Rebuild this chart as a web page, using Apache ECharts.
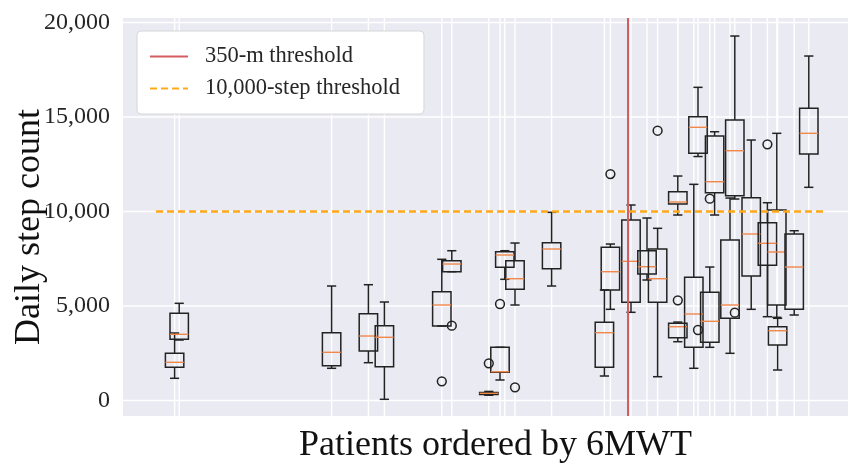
<!DOCTYPE html>
<html><head><meta charset="utf-8">
<script src="https://cdn.jsdelivr.net/npm/echarts@6/dist/echarts.min.js"></script>
<style>html,body{margin:0;padding:0;background:#fff}#chart{width:848px;height:466px}</style>
</head><body><div id="chart"></div>
<script>
// 6MWT distance (m) of each patient, in the plotted order
const positions   = [123.3, 125.6, 201.8, 220.2, 228.2, 256.9, 261.9, 280.4, 286.0, 288.4, 293.5, 311.8, 338.2, 341.2, 351.5, 359.5, 364.8, 374.9, 374.9, 382.9, 385.0, 390.9, 393.3, 401.0, 403.4, 411.6, 419.7, 424.4, 424.8, 433.1, 440.4];
const whiskerLow  = [1175, 3201, 1704, 2000,   63, 3942, 6815,  280, 1085, 6413, 5053, 6058, 1296, 4825, 4667, 6376, 1259,  9815, 3111, 1704, 12910, 2815,  9815, 2497, 10661, 4825, 4434, 4402, 1614, 4524, 11280];
const q1          = [1757, 3238, 1841, 2619, 1788, 3942, 6815,  320, 1492, 7048, 5884, 6974, 1757, 5847, 5196, 6693, 5196, 10397, 3323, 2815, 13079, 3079, 10995, 4349, 10836, 6587, 7153, 5053, 2937, 4825, 13042];
const median      = [2021, 3503, 2550, 3413, 3344, 5053, 7222,  380, 1524, 7698, 6444, 8016, 3587, 6815, 7365, 7079, 6444, 10503, 3905, 4577, 14455, 4190, 11577, 5053, 13217, 8810, 8317, 7857, 3693, 7063, 14138];
const q3          = [2497, 4614, 3587, 4593, 3958, 5757, 7397,  430, 2815, 7873, 7397, 8349, 4138, 8106, 9550, 7926, 8016, 11048, 4085, 6519, 15016, 5725, 13995, 8492, 14841, 10730, 9407, 10079, 3905, 8810, 15460];
const whiskerHigh = [3571, 5143, 6058, 6127, 5212, 7471, 7926,  480, 2815, 7926, 8333, 9958, 5847, 8280, 10344, 9656, 9111, 11878, 4150, 11439, 16571, 7063, 14222, 10714, 19286, 13783, 10466, 14138, 4349, 8984, 18228];
// outliers: [patient index, daily steps]
const outliers = [[5, 1016], [6, 3958], [7, 1968], [8, 5106], [10, 698], [13, 11984], [16, 14275], [18, 5300], [20, 3730], [21, 10680], [24, 4646], [26, 13556]];
const yTicks = [0, 5000, 10000, 15000, 20000];
const WALK_THRESHOLD = 350;       // metres
const STEP_THRESHOLD = 10000;     // steps
const STEP_LINE_RANGE = [114, 448.5];
const X_RANGE = [97.5, 460];
const Y_RANGE = [-820, 20240];
const BOX_WIDTH = 9.2;

const SERIF = "'Liberation Serif','Times New Roman',serif";
const boxData = positions.map((p, i) => [p, whiskerLow[i], q1[i], median[i], q3[i], whiskerHigh[i]]);
const outlierData = outliers.map(([i, v]) => [positions[i], v]);

const chart = echarts.init(document.getElementById('chart'));

const INK = '#222222';
function renderBox(params, api) {
  const x = api.value(0);
  const lo = api.value(1), a = api.value(2), m = api.value(3), b = api.value(4), hi = api.value(5);
  const c = api.coord([x, 0])[0];
  const hw = api.coord([x + BOX_WIDTH / 2, 0])[0] - c;
  const y = v => api.coord([x, v])[1];
  const st = { stroke: INK, lineWidth: 1.5, fill: 'none' };
  return { type: 'group', children: [
    { type: 'line', shape: { x1: c, y1: y(b), x2: c, y2: y(hi) }, style: st },
    { type: 'line', shape: { x1: c, y1: y(a), x2: c, y2: y(lo) }, style: st },
    { type: 'line', shape: { x1: c - hw / 2, y1: y(hi), x2: c + hw / 2, y2: y(hi) }, style: st },
    { type: 'line', shape: { x1: c - hw / 2, y1: y(lo), x2: c + hw / 2, y2: y(lo) }, style: st },
    { type: 'rect', shape: { x: c - hw, y: y(b), width: 2 * hw, height: y(a) - y(b) }, style: st },
    { type: 'line', shape: { x1: c - hw, y1: y(m), x2: c + hw, y2: y(m) }, style: { stroke: '#f0884a', lineWidth: 1.4 } }
  ]};
}

function renderVGrid(params, api) {
  const cs = params.coordSys;
  const x = api.coord([api.value(0), 0])[0];
  return { type: 'line', shape: { x1: x, y1: cs.y, x2: x, y2: cs.y + cs.height }, style: { stroke: '#ffffff', lineWidth: 1.4 } };
}
function renderHGrid(params, api) {
  const cs = params.coordSys;
  const y = api.coord([X_RANGE[0], api.value(1)])[1];
  return { type: 'line', shape: { x1: cs.x, y1: y, x2: cs.x + cs.width, y2: y }, style: { stroke: '#ffffff', lineWidth: 1.4 } };
}
function renderOutlier(params, api) {
  const p = api.coord([api.value(0), api.value(1)]);
  return { type: 'circle', shape: { cx: p[0], cy: p[1], r: 4.4 }, style: { stroke: INK, lineWidth: 1.5, fill: 'none' } };
}

chart.setOption({
  animation: false,
  backgroundColor: '#ffffff',
  grid: { left: 123, right: 0, top: 18, bottom: 50, show: true, backgroundColor: '#eaeaf2', borderWidth: 0,
    containLabel: false, outerBoundsMode: 'none' },
  legend: {
    orient: 'vertical', left: 137, top: 31,
    data: ['350-m threshold', '10,000-step threshold'],
    backgroundColor: '#ffffff', borderColor: '#d6d6d6', borderWidth: 1, borderRadius: 4,
    padding: [14, 24, 14, 12], itemWidth: 38, itemHeight: 14, itemGap: 9,
    itemStyle: { color: 'rgba(0,0,0,0)', borderColor: 'rgba(0,0,0,0)', borderWidth: 0 },
    textStyle: { fontFamily: SERIF, fontSize: 22.5, color: '#262626', padding: [0, 0, 0, 12] }
  },
  xAxis: {
    type: 'value', min: X_RANGE[0], max: X_RANGE[1],
    axisLine: { show: false }, axisTick: { show: false }, axisLabel: { show: false }, splitLine: { show: false },
    name: 'Patients ordered by 6MWT', nameLocation: 'middle', nameGap: 12, nameMoveOverlap: false,
    nameTextStyle: { fontFamily: SERIF, fontSize: 36, color: '#111111', padding: [0, 0, 0, 20] }
  },
  yAxis: {
    type: 'value', min: Y_RANGE[0], max: Y_RANGE[1],
    axisLine: { show: false }, axisTick: { show: false, customValues: yTicks }, splitLine: { show: false },
    axisLabel: { customValues: yTicks, margin: 13, fontFamily: SERIF, fontSize: 24, color: '#262626',
      formatter: v => Number(v).toLocaleString('en-US') },
    name: 'Daily step count', nameLocation: 'middle', nameGap: 75, nameMoveOverlap: false,
    nameTextStyle: { fontFamily: SERIF, fontSize: 36, color: '#111111', padding: [0, 20, 0, 0] }
  },
  series: [
    { type: 'custom', name: 'vgrid', z: 1, silent: true, renderItem: renderVGrid, data: positions.map(p => [p, 0]), encode: { x: 0, y: 1 } },
    { type: 'custom', name: 'hgrid', z: 1, silent: true, renderItem: renderHGrid, data: yTicks.map(v => [X_RANGE[0], v]), encode: { x: 0, y: 1 } },
    { type: 'custom', name: 'boxes', z: 2, renderItem: renderBox, data: boxData, encode: { x: 0, y: [1, 2, 3, 4, 5] } },
    { type: 'custom', name: 'outliers', z: 3, renderItem: renderOutlier, data: outlierData, encode: { x: 0, y: 1 } },
    { type: 'line', name: '350-m threshold', z: 5, data: [], symbol: 'none',
      lineStyle: { color: '#d65c62', width: 2 }, itemStyle: { color: '#d65c62' },
      markLine: { silent: true, symbol: ['none', 'none'], label: { show: false },
        lineStyle: { color: '#d65c62', width: 2, type: 'solid' }, emphasis: { disabled: true },
        data: [{ xAxis: WALK_THRESHOLD }] } },
    { type: 'line', name: '10,000-step threshold', z: 5, data: [], symbol: 'none',
      lineStyle: { color: '#ffa91a', width: 2.2, type: [7, 4] }, itemStyle: { color: '#ffa91a' },
      markLine: { silent: true, symbol: ['none', 'none'], label: { show: false },
        lineStyle: { color: '#ffa91a', width: 2.6, type: [7, 4] }, emphasis: { disabled: true },
        data: [[{ coord: [STEP_LINE_RANGE[0], STEP_THRESHOLD] }, { coord: [STEP_LINE_RANGE[1], STEP_THRESHOLD] }]] } }
  ]
});
</script></body></html>
